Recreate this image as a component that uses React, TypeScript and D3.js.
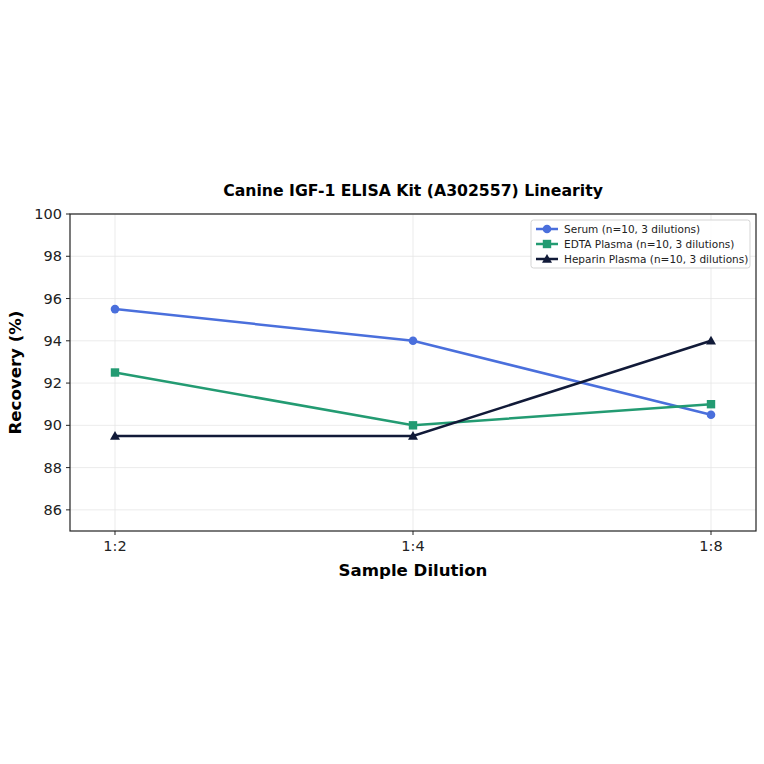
import React from 'react';
import * as d3 from 'd3';

const dilutions = ['1:2', '1:4', '1:8'];
const serumValues = [95.5, 94.0, 90.5];
const edtaValues = [92.5, 90.0, 91.0];
const heparinValues = [89.5, 89.5, 94.0];
const yTicks = [86, 88, 90, 92, 94, 96, 98, 100];

const seriesNames = [
  'Serum (n=10, 3 dilutions)',
  'EDTA Plasma (n=10, 3 dilutions)',
  'Heparin Plasma (n=10, 3 dilutions)',
];
const seriesColors = ['#4a6fdc', '#239b72', '#111a38'];
const seriesMarkers = ['circle', 'square', 'triangle'];

const W = 764;
const H = 764;
const MARGIN = { top: 214, right: 8, bottom: 233, left: 70 };
const FONT = 'DejaVu Sans, sans-serif';

function Marker({ type, x, y, color }: { type: string; x: number; y: number; color: string }) {
  if (type === 'circle') return <circle cx={x} cy={y} r={4.3} fill={color} />;
  if (type === 'square') return <rect x={x - 4.2} y={y - 4.2} width={8.4} height={8.4} fill={color} />;
  const s = 5;
  return <path d={`M${x},${y - s}L${x + s},${y + s * 0.75}L${x - s},${y + s * 0.75}Z`} fill={color} />;
}

export default function App() {
  const innerW = W - MARGIN.left - MARGIN.right;
  const innerH = H - MARGIN.top - MARGIN.bottom;
  const x = d3.scalePoint<string>().domain(dilutions).range([0, innerW]).padding(0.151);
  const y = d3.scaleLinear().domain([85, 100]).range([innerH, 0]);
  const allSeries = [serumValues, edtaValues, heparinValues];
  const line = d3.line<number>().x((_, i) => x(dilutions[i])!).y(d => y(d));

  return (
    <div style={{ position: 'absolute', left: 0, top: 0 }}>
      <svg width={W} height={H} style={{ display: 'block', background: '#fff' }} fontFamily={FONT}>
        <text x={413} y={196} textAnchor="middle" fontSize={15.7} fontWeight="bold">
          Canine IGF-1 ELISA Kit (A302557) Linearity
        </text>
        <g transform={`translate(${MARGIN.left},${MARGIN.top})`}>
          {/* grid */}
          {yTicks.map(t => (
            <line key={'gy' + t} x1={0} x2={innerW} y1={y(t)} y2={y(t)} stroke="#e6e6e6" strokeWidth={0.8} />
          ))}
          {dilutions.map(d => (
            <line key={'gx' + d} x1={x(d)} x2={x(d)} y1={0} y2={innerH} stroke="#e6e6e6" strokeWidth={0.8} />
          ))}
          {/* lines */}
          {allSeries.map((vals, si) => (
            <g key={'s' + si}>
              <path d={line(vals)!} fill="none" stroke={seriesColors[si]} strokeWidth={2.5} />
              {vals.map((v, i) => (
                <Marker key={i} type={seriesMarkers[si]} x={x(dilutions[i])!} y={y(v)} color={seriesColors[si]} />
              ))}
            </g>
          ))}
          {/* frame */}
          <rect x={0} y={0} width={innerW} height={innerH} fill="none" stroke="#222" strokeWidth={1.2} />
          {/* y ticks */}
          {yTicks.map(t => (
            <g key={'ty' + t} transform={`translate(0,${y(t)})`}>
              <line x1={-4} x2={0} stroke="#222" />
              <text x={-8} dy="0.35em" textAnchor="end" fontSize={14.5} fill="#222">{t}</text>
            </g>
          ))}
          {/* x ticks */}
          {dilutions.map(d => (
            <g key={'tx' + d} transform={`translate(${x(d)},${innerH})`}>
              <line y1={0} y2={4} stroke="#222" />
              <text y={20} textAnchor="middle" fontSize={14.5} fill="#222">{d}</text>
            </g>
          ))}
          {/* axis labels */}
          <text x={innerW / 2} y={innerH + 45} textAnchor="middle" fontSize={16.6} fontWeight="bold">
            Sample Dilution
          </text>
          <text transform={`translate(${-49},${innerH / 2}) rotate(-90)`} textAnchor="middle" fontSize={16.6} fontWeight="bold">
            Recovery (%)
          </text>
          {/* legend */}
          <g transform={`translate(${innerW - 225},6)`}>
            <rect x={0} y={0} width={219} height={48} rx={2.5} fill="#fff" fillOpacity={0.85} stroke="#d5d5d5" />
            {seriesNames.map((name, i) => (
              <g key={name} transform={`translate(0,${9 + i * 15})`}>
                <line x1={5} x2={27} stroke={seriesColors[i]} strokeWidth={2.5} />
                <Marker type={seriesMarkers[i]} x={16} y={0} color={seriesColors[i]} />
                <text x={33} dy="0.35em" fontSize={10.5} fill="#222">{name}</text>
              </g>
            ))}
          </g>
        </g>
      </svg>
    </div>
  );
}
